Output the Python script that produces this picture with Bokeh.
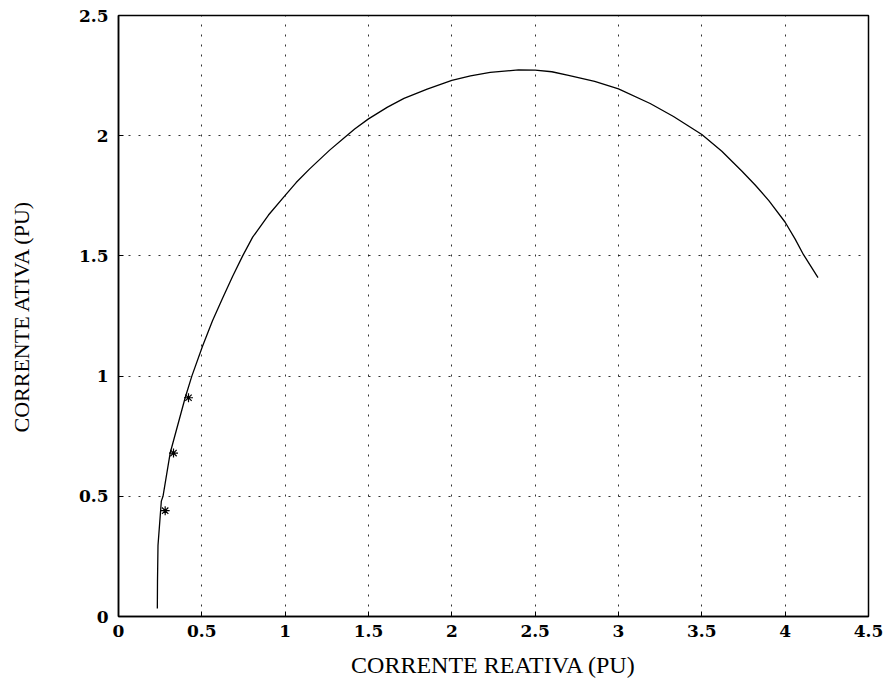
from bokeh.plotting import figure
from bokeh.models import FixedTicker, Range1d
from bokeh.embed import file_html
from bokeh.resources import INLINE

# Circle curve: reactive current vs active current (pu)
corrente_reativa = [0.233, 0.234, 0.237, 0.257, 0.267, 0.31, 0.40, 0.44, 0.504,
                    0.564, 0.625, 0.685, 0.745, 0.805, 0.90, 1.0, 1.066, 1.147,
                    1.267, 1.36, 1.417, 1.5, 1.614, 1.713, 1.852, 2.0, 2.112,
                    2.23, 2.40, 2.5, 2.6, 2.70, 2.857, 3.0, 3.19, 3.33, 3.5,
                    3.62, 3.741, 3.82, 3.902, 4.0, 4.06, 4.11, 4.197]
corrente_ativa = [0.033, 0.15, 0.296, 0.48, 0.5, 0.68, 0.91, 1.0, 1.124,
                  1.23, 1.325, 1.415, 1.5, 1.578, 1.67, 1.752, 1.805, 1.862,
                  1.94, 1.995, 2.028, 2.07, 2.119, 2.155, 2.194, 2.23, 2.249,
                  2.263, 2.274, 2.273, 2.266, 2.251, 2.226, 2.195, 2.134, 2.08, 2.005,
                  1.935, 1.852, 1.795, 1.73, 1.64, 1.57, 1.505, 1.41]

# Measured points
medido_reativa = [0.28, 0.33, 0.42]
medido_ativa = [0.44, 0.68, 0.91]

x_ticks = [0, 0.5, 1, 1.5, 2, 2.5, 3, 3.5, 4, 4.5]
y_ticks = [0, 0.5, 1, 1.5, 2, 2.5]

p = figure(width=887, height=695, output_backend="svg", toolbar_location=None,
           x_range=Range1d(0, 4.5), y_range=Range1d(0, 2.5),
           min_border_left=118, min_border_right=19,
           min_border_top=15, min_border_bottom=79)

p.background_fill_color = "white"
p.border_fill_color = "white"
p.outline_line_color = "black"
p.outline_line_width = 1.5

for ax in (p.xaxis, p.yaxis):
    ax.major_tick_in = 5
    ax.major_tick_out = 0
    ax.minor_tick_line_color = None
    ax.axis_line_color = "black"
    ax.axis_line_width = 1.5
    ax.major_tick_line_color = "black"
    ax.major_label_text_font = "DejaVu Serif"
    ax.major_label_text_font_style = "bold"
    ax.major_label_text_font_size = "17px"
    ax.major_label_text_color = "black"
    ax.axis_label_text_font = "Liberation Serif"
    ax.axis_label_text_font_style = "normal"
    ax.axis_label_text_color = "black"

p.xaxis.axis_label_text_font_size = "24px"
p.yaxis.axis_label_text_font_size = "22px"

p.xaxis.ticker = FixedTicker(ticks=x_ticks)
p.yaxis.ticker = FixedTicker(ticks=y_ticks)
p.xaxis.axis_label = "CORRENTE REATIVA (PU)"
p.yaxis.axis_label = "CORRENTE ATIVA (PU)"
p.xaxis.major_label_standoff = 8
p.yaxis.major_label_standoff = 10
p.xaxis.axis_label_standoff = 12
p.yaxis.axis_label_standoff = 42

p.xgrid.ticker = FixedTicker(ticks=x_ticks)
p.ygrid.ticker = FixedTicker(ticks=y_ticks)
p.grid.grid_line_color = "black"
p.grid.grid_line_dash = "2 8"
p.grid.grid_line_width = 1
p.grid.grid_line_alpha = 0.8

p.line(corrente_reativa, corrente_ativa, line_color="black", line_width=1.3)
p.scatter(medido_reativa, medido_ativa, marker="asterisk", size=9,
          line_color="black", line_width=1.2)

open("out.html", "w").write(file_html(p, INLINE))
